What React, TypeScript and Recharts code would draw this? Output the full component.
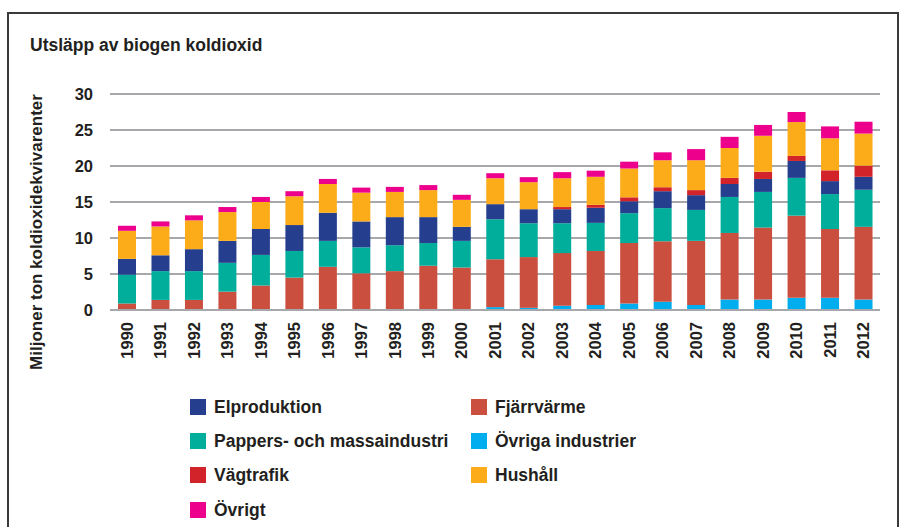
import React from 'react';
import { BarChart, Bar, XAxis, YAxis, CartesianGrid } from 'recharts';

const years = ['1990', '1991', '1992', '1993', '1994', '1995', '1996', '1997', '1998', '1999', '2000', '2001',
  '2002', '2003', '2004', '2005', '2006', '2007', '2008', '2009', '2010', '2011', '2012'];

const ovrigaIndustrier = [0, 0, 0, 0, 0, 0, 0, 0, 0, 0, 0, 0.4, 0.3, 0.6, 0.7, 0.9, 1.15, 0.7, 1.45, 1.45, 1.7, 1.7, 1.45];
const fjarrvarme = [0.9, 1.4, 1.4, 2.55, 3.4, 4.5, 6.0, 5.1, 5.4, 6.15, 5.9, 6.65, 7.05, 7.3, 7.5, 8.4, 8.4, 8.9, 9.25, 10.0, 11.4, 9.55, 10.1];
const pappers = [4.0, 4.0, 4.0, 4.0, 4.25, 3.7, 3.6, 3.6, 3.6, 3.15, 3.7, 5.55, 4.7, 4.15, 3.9, 4.15, 4.6, 4.3, 5.0, 4.95, 5.25, 4.85, 5.15];
const elproduktion = [2.2, 2.2, 3.05, 3.05, 3.6, 3.6, 3.9, 3.6, 3.9, 3.6, 1.95, 2.1, 1.95, 1.95, 2.1, 1.65, 2.35, 2.05, 1.8, 1.8, 2.35, 1.8, 1.8];
const vagtrafik = [0, 0, 0, 0, 0, 0, 0, 0, 0, 0, 0, 0, 0, 0.3, 0.4, 0.55, 0.55, 0.7, 0.85, 1.0, 0.7, 1.5, 1.55];
const hushall = [3.9, 4.0, 4.0, 4.0, 3.75, 4.0, 4.0, 4.0, 3.5, 3.75, 3.75, 3.6, 3.75, 4.0, 3.9, 4.0, 3.75, 4.15, 4.15, 5.0, 4.7, 4.45, 4.45];
const ovrigt = [0.7, 0.7, 0.7, 0.7, 0.7, 0.7, 0.7, 0.7, 0.7, 0.7, 0.7, 0.7, 0.7, 0.85, 0.85, 0.95, 1.1, 1.55, 1.55, 1.5, 1.4, 1.65, 1.65];

const yTicks = [0, 5, 10, 15, 20, 25, 30];

// stack order, bottom to top
const series = [
  { key: 'ovrigaIndustrier', name: 'Övriga industrier', color: '#00aeef', values: ovrigaIndustrier },
  { key: 'fjarrvarme', name: 'Fjärrvärme', color: '#cb4f3e', values: fjarrvarme },
  { key: 'pappers', name: 'Pappers- och massaindustri', color: '#00ae9b', values: pappers },
  { key: 'elproduktion', name: 'Elproduktion', color: '#253f8e', values: elproduktion },
  { key: 'vagtrafik', name: 'Vägtrafik', color: '#d2232a', values: vagtrafik },
  { key: 'hushall', name: 'Hushåll', color: '#fbac18', values: hushall },
  { key: 'ovrigt', name: 'Övrigt', color: '#ec008c', values: ovrigt },
];

// legend layout as in the original (two columns)
const legendOrder = [
  ['elproduktion', 'fjarrvarme'],
  ['pappers', 'ovrigaIndustrier'],
  ['vagtrafik', 'hushall'],
  ['ovrigt'],
];

const data = years.map((year, i) => {
  const row: Record<string, string | number> = { year };
  series.forEach(s => { row[s.key] = s.values[i]; });
  return row;
});

const FONT = '"Liberation Sans", Arial, sans-serif';
const TEXT = '#231f20';

const YearTick = (props: any) => {
  const { x, y, payload } = props;
  return (
    <g transform={`translate(${x},${y})`}>
      <text transform="rotate(-90)" textAnchor="end" dy="0.36em" fontSize={16.5} fontWeight="bold" fill={TEXT} fontFamily={FONT}>
        {payload.value}
      </text>
    </g>
  );
};

export default function App() {
  return (
    <div style={{ position: 'absolute', left: 0, top: 0, width: 901, height: 527, overflow: 'hidden', background: '#fff', fontFamily: FONT }}>
      {/* frame */}
      <div style={{ position: 'absolute', left: 7, top: 12, width: 888, height: 530, borderTop: '2px solid #3a3a3a', borderLeft: '2px solid #3a3a3a', borderRight: '2px solid #3a3a3a' }} />

      <div style={{ position: 'absolute', left: 30, top: 35, fontSize: 17.5, fontWeight: 'bold', color: TEXT, whiteSpace: 'nowrap' }}>
        Utsläpp av biogen koldioxid
      </div>

      <div style={{ position: 'absolute', left: 37, top: 232, transform: 'translate(-50%, -50%) rotate(-90deg)', fontSize: 17, fontWeight: 'bold', color: TEXT, whiteSpace: 'nowrap' }}>
        Miljoner ton koldioxidekvivarenter
      </div>

      <div style={{ position: 'absolute', left: 0, top: 0 }}>
        <BarChart width={901} height={380} data={data} margin={{ top: 94, right: 21, bottom: 40, left: 50 }} barCategoryGap={0}>
          <CartesianGrid vertical={false} stroke="#a6a8ab" strokeWidth={2} />
          <XAxis dataKey="year" height={30} tick={<YearTick />} tickLine={false} axisLine={{ stroke: '#a6a8ab', strokeWidth: 2 }} tickSize={0} tickMargin={12} interval={0} />
          <YAxis width={60} domain={[0, 30]} ticks={yTicks} tickLine={false} axisLine={false} tickSize={0} tickMargin={17}
            tick={{ fontSize: 16.5, fontWeight: 'bold', fill: TEXT, fontFamily: FONT }} />
          {series.map(s => (
            <Bar key={s.key} dataKey={s.key} name={s.name} stackId="a" fill={s.color} barSize={18} isAnimationActive={false} />
          ))}
        </BarChart>
      </div>

      {/* legend */}
      {legendOrder.map((row, r) => row.map((key, c) => {
        const s = series.find(x => x.key === key)!;
        return (
          <div key={key} style={{ position: 'absolute', left: c === 0 ? 190 : 471, top: 398 + r * 34 + (r === 3 ? 1 : 0), display: 'flex', alignItems: 'center', whiteSpace: 'nowrap' }}>
            <div style={{ width: 16, height: 16, background: s.color, marginRight: 8 }} />
            <span style={{ fontSize: 17.5, fontWeight: 'bold', color: TEXT, lineHeight: '18px' }}>{s.name}</span>
          </div>
        );
      }))}
    </div>
  );
}
